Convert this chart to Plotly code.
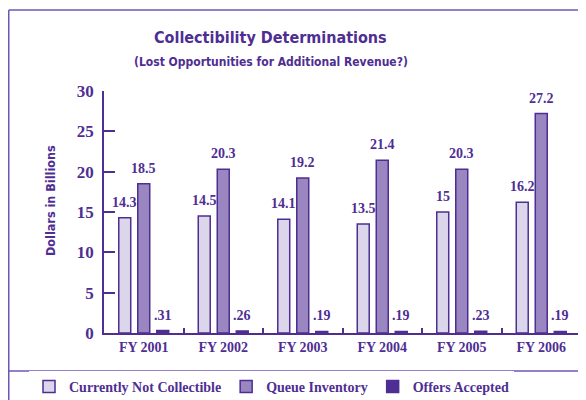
import plotly.graph_objects as go

# data
years = ["FY 2001", "FY 2002", "FY 2003", "FY 2004", "FY 2005", "FY 2006"]
not_collectible = [14.3, 14.5, 14.1, 13.5, 15, 16.2]
queue_inventory = [18.5, 20.3, 19.2, 21.4, 20.3, 27.2]
offers_accepted = [0.31, 0.26, 0.19, 0.19, 0.23, 0.19]

# the page body has an 8px margin, so the figure starts at (8, 8) in the window
OFF = 8
W, H = 578, 392
L, R, T, B = 96, 5, 83, 67
PW, PH = W - L - R, H - T - B

PURPLE = "#4f2e93"
FRAME = "#6e56b6"
SERIF = "Liberation Serif, Times New Roman, serif"
NARROW = "Liberation Sans Narrow, DejaVu Sans Condensed, Arial Narrow, sans-serif"


def px(x):
    # window pixel -> paper fraction
    return (x - OFF - L) / PW


def py(y):
    return (H - B - (y - OFF)) / PH


def lbl(v):
    # 0.31 -> ".31", 15 -> "15"
    s = f"{v:g}"
    return s[1:] if v < 1 else s


series = [
    ("Currently Not Collectible", not_collectible, "#dcd6ea"),
    ("Queue Inventory", queue_inventory, "#9a86c0"),
    ("Offers Accepted", offers_accepted, "#4f2e93"),
]

fig = go.Figure()
labels = []
for i, (name, vals, col) in enumerate(series):
    fig.add_trace(go.Bar(
        x=years, y=vals, name=name,
        marker=dict(color=col, line=dict(color=PURPLE, width=1.5)),
    ))
    for yr, v in zip(years, vals):
        labels.append(dict(
            x=yr, y=v, text=lbl(v), xref="x", yref="y", showarrow=False,
            xshift=(i - 1) * 19, yshift=6, xanchor="center", yanchor="bottom",
            font=dict(family=SERIF, size=14, color=PURPLE, weight="bold"),
        ))

fig.update_layout(
    width=W, height=H,
    margin=dict(l=L, r=R, t=T, b=B, autoexpand=False),
    paper_bgcolor="white", plot_bgcolor="white",
    barmode="group", bargap=0.283, bargroupgap=0.37,
    showlegend=True,
    legend=dict(
        orientation="h", x=px(29), xanchor="left", y=py(387), yanchor="middle",
        font=dict(family=SERIF, size=14, color=PURPLE, weight="bold"),
        itemwidth=30, traceorder="normal",
    ),
    xaxis=dict(
        showline=True, linecolor=PURPLE, linewidth=1.5,
        ticks="inside", tickson="boundaries", ticklen=5, tickcolor=PURPLE, tickwidth=1.5,
        tickfont=dict(family=SERIF, size=14, color=PURPLE, weight="bold"),
        showgrid=False,
    ),
    yaxis=dict(
        range=[0, 30], tickvals=[0, 5, 10, 15, 20, 25, 30],
        showline=True, linecolor=PURPLE, linewidth=1.5,
        ticks="inside", ticklen=11, tickcolor=PURPLE, tickwidth=1.5,
        ticklabelstandoff=5,
        tickfont=dict(family=SERIF, size=17, color=PURPLE, weight="bold"),
        showgrid=False, zeroline=False,
    ),
    annotations=labels + [
        dict(text="Collectibility Determinations", x=px(270), y=py(38),
             xref="paper", yref="paper", showarrow=False,
             xanchor="center", yanchor="middle",
             font=dict(family=NARROW, size=16, color=PURPLE, weight="bold")),
        dict(text="(Lost Opportunities for Additional Revenue?)", x=px(271), y=py(62),
             xref="paper", yref="paper", showarrow=False,
             xanchor="center", yanchor="middle",
             font=dict(family=NARROW, size=12, color=PURPLE, weight="bold")),
        dict(text="Dollars in Billions", x=px(50), y=py(201), textangle=-90,
             xref="paper", yref="paper", showarrow=False,
             xanchor="center", yanchor="middle",
             font=dict(family=NARROW, size=12.5, color=PURPLE, weight="bold")),
    ],
    shapes=[
        dict(type="line", xref="paper", yref="paper", x0=px(8.75), x1=px(600), y0=py(10), y1=py(10),
             line=dict(color=FRAME, width=1.5)),
        dict(type="line", xref="paper", yref="paper", x0=px(8.75), x1=px(8.75), y0=py(10), y1=py(410),
             line=dict(color=FRAME, width=1.5)),
        dict(type="line", xref="paper", yref="paper", x0=px(8.75), x1=px(600), y0=py(371), y1=py(371),
             line=dict(color=FRAME, width=1.5)),
    ],
)

fig.write_html("out.html")
